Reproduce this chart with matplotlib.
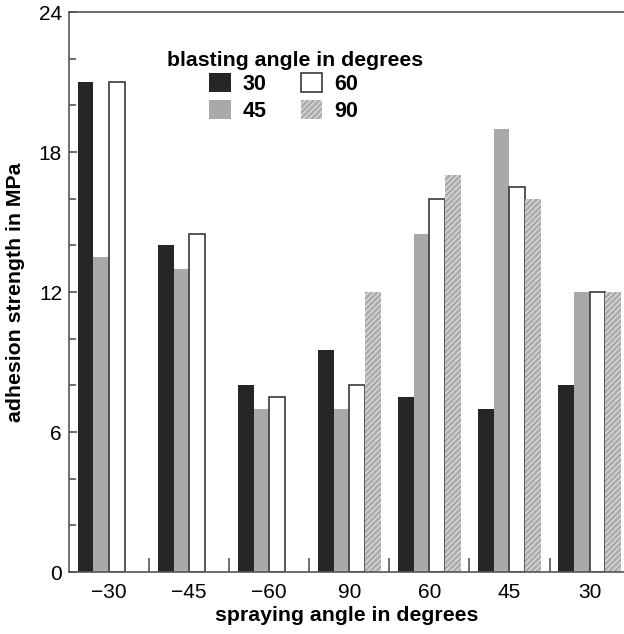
import numpy as np
import matplotlib
matplotlib.use("Agg")
import matplotlib.pyplot as plt
from matplotlib.patches import Patch
from matplotlib.ticker import MultipleLocator, FixedLocator

plt.rcParams['font.family'] = ['Liberation Sans', 'DejaVu Sans']
plt.rcParams['hatch.linewidth'] = 1.0

spraying = ['\u221230', '\u221245', '\u221260', '90', '60', '45', '30']
blasting = ['30', '45', '60', '90']

# adhesion strength (MPa) per blasting angle, one value per spraying angle
strength_30 = [21.0, 14.0, 8.0, 9.5, 7.5, 7.0, 8.0]
strength_45 = [13.5, 13.0, 7.0, 7.0, 14.5, 19.0, 12.0]
strength_60 = [21.0, 14.5, 7.5, 8.0, 16.0, 16.5, 12.0]
strength_90 = [0.0, 0.0, 0.0, 12.0, 17.0, 16.0, 12.0]

styles = [
    dict(facecolor='#262626', edgecolor='#262626', linewidth=0),
    dict(facecolor='#a9a9a9', edgecolor='#a9a9a9', linewidth=0),
    dict(facecolor='white', edgecolor='#3a3a3a', linewidth=1.2),
    dict(facecolor='#ababab', edgecolor='#dadada', linewidth=0, hatch='//////'),
]

fig = plt.figure(figsize=(6.24, 6.34), dpi=100)
ax = fig.add_axes([69 / 624, 62 / 634, 1 - 69 / 624, 560 / 634])

x = np.arange(len(spraying))
w = 0.195
series = [strength_30, strength_45, strength_60, strength_90]
for i, (vals, st) in enumerate(zip(series, styles)):
    ax.bar(x + (i - 1.5) * w, vals, width=w, label=blasting[i], **st)

ax.set_xlim(-0.5, 6.43)
ax.set_ylim(0, 24)

spine_c = '#555555'
for s in ['left', 'bottom', 'top']:
    ax.spines[s].set_color(spine_c)
    ax.spines[s].set_linewidth(1.2)
ax.spines['right'].set_visible(False)

ax.set_xticks(x)
ax.set_xticklabels(spraying)
ax.xaxis.set_minor_locator(FixedLocator(np.arange(0.5, 6, 1.0)))
ax.tick_params(axis='x', which='major', length=0, pad=8, labelsize=15)
ax.tick_params(axis='x', which='minor', direction='in', length=10, width=1.2,
               color=spine_c)

ax.yaxis.set_major_locator(MultipleLocator(6))
ax.yaxis.set_minor_locator(MultipleLocator(2))
ax.tick_params(axis='y', which='major', direction='in', length=6, width=1.2,
               color=spine_c, labelsize=15, pad=5)
ax.tick_params(axis='y', which='minor', direction='in', length=5, width=1.2,
               color=spine_c)

ax.set_xlabel('spraying angle in degrees', fontsize=15.3, fontweight='bold',
              labelpad=3)
ax.set_ylabel('adhesion strength in MPa', fontsize=15.3, fontweight='bold',
              labelpad=10)

# legend entries without a title; the title is placed as its own text
handles = [Patch(**styles[0]), Patch(**styles[1]),
           Patch(**styles[2]), Patch(**styles[3])]
leg = ax.legend(handles, blasting, ncol=2, frameon=False,
                prop={'weight': 'bold', 'size': 15.5},
                handlelength=1.0, handleheight=1.0, handletextpad=0.55,
                columnspacing=1.6, labelspacing=0.22, borderpad=0,
                borderaxespad=0, loc='upper left',
                bbox_to_anchor=(140 / 555, 499 / 560))
ax.text(98 / 555, 512 / 560, 'blasting angle in degrees', transform=ax.transAxes,
        fontsize=15.3, fontweight='bold', ha='left', va='center')

fig.savefig('out.png', dpi=100)
